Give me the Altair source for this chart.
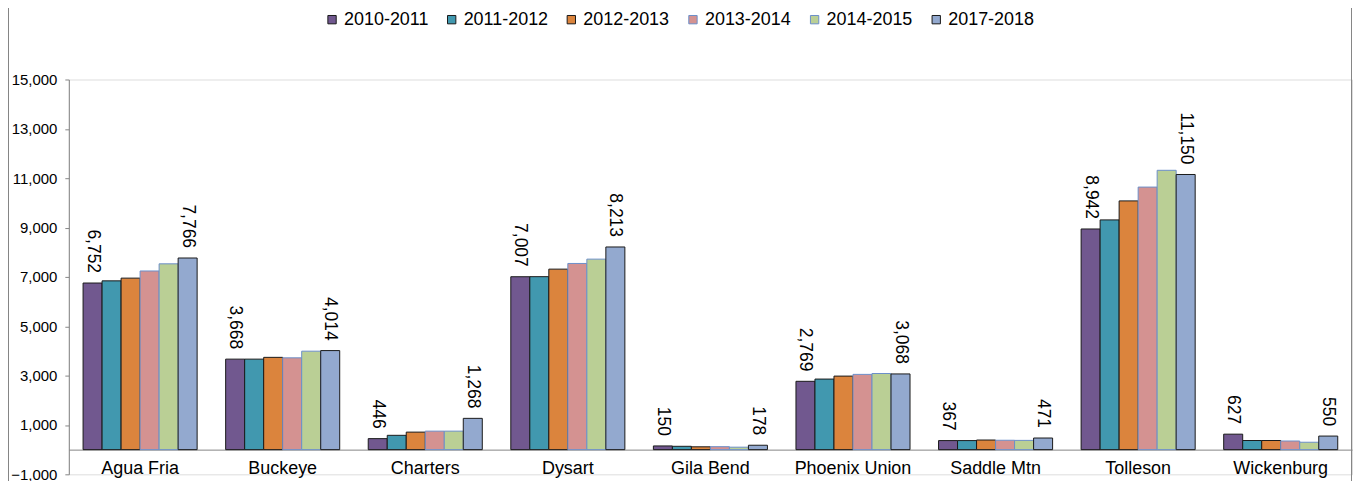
import altair as alt
import pandas as pd

categories = ["Agua Fria", "Buckeye", "Charters", "Dysart", "Gila Bend",
              "Phoenix Union", "Saddle Mtn", "Tolleson", "Wickenburg"]
series = ["2010-2011", "2011-2012", "2012-2013", "2013-2014", "2014-2015", "2017-2018"]

v_2010_2011 = [6752, 3668, 446, 7007, 150, 2769, 367, 8942, 627]
v_2011_2012 = [6840, 3668, 580, 7010, 135, 2860, 367, 9310, 370]
v_2012_2013 = [6950, 3740, 710, 7315, 115, 2980, 390, 10080, 370]
v_2013_2014 = [7240, 3720, 750, 7545, 120, 3050, 380, 10640, 350]
v_2014_2015 = [7530, 3990, 750, 7720, 100, 3085, 375, 11320, 300]
v_2017_2018 = [7766, 4014, 1268, 8213, 178, 3068, 471, 11150, 550]

labelled_series = ["2010-2011", "2017-2018"]
y_ticks = [-1000, 1000, 3000, 5000, 7000, 9000, 11000, 13000, 15000]

fill_colors = ["#71588F", "#4198AF", "#DB843D", "#D49291", "#BACF95", "#93A9CF"]
stroke_colors = ["#1a1a1a", "#1a1a1a", "#1a1a1a", "#6B8FC9", "#6B8FC9", "#1a1a1a"]

all_values = [v_2010_2011, v_2011_2012, v_2012_2013, v_2013_2014, v_2014_2015, v_2017_2018]
rows = []
for s, vals in zip(series, all_values):
    for c, v in zip(categories, vals):
        rows.append({"district": c, "series": s, "value": v})
df = pd.DataFrame(rows)

FONT = "Liberation Sans"

x_enc = alt.X("district:N", sort=categories,
              scale=alt.Scale(paddingInner=0.2, paddingOuter=0.1),
              axis=alt.Axis(title=None, labelAngle=0, ticks=False, offset=-24.75,
                            domainColor="#868686", labelPadding=10, labelFontSize=18,
                            labelColor="#000000", labelFont=FONT))
xoff_enc = alt.XOffset("series:N", sort=series,
                       scale=alt.Scale(domain=series, paddingInner=0, paddingOuter=0))
y_enc = alt.Y("value:Q",
              scale=alt.Scale(domain=[-1000, 15000], nice=False, zero=False),
              axis=alt.Axis(title=None, values=y_ticks, format=",.0f", grid=False,
                            domainColor="#868686", tickColor="#868686", tickSize=4,
                            labelPadding=8, labelFontSize=15, labelColor="#000000",
                            labelFont=FONT))

legend_props = dict(title=None, orient="none", direction="horizontal", columns=6,
                    legendX=255, legendY=-69, symbolType="square", symbolSize=70,
                    symbolStrokeWidth=1, labelFontSize=18, labelFont=FONT,
                    labelColor="#000000", columnPadding=14, labelOffset=3, padding=0)

bars = alt.Chart(df).mark_bar(strokeWidth=1).encode(
    x=x_enc,
    xOffset=xoff_enc,
    y=y_enc,
    fill=alt.Fill("series:N", sort=series,
                  scale=alt.Scale(domain=series, range=fill_colors),
                  legend=alt.Legend(**legend_props)),
    stroke=alt.Stroke("series:N", sort=series,
                      scale=alt.Scale(domain=series, range=stroke_colors),
                      legend=alt.Legend(**legend_props)),
)

labels = alt.Chart(df).transform_filter(
    alt.FieldOneOfPredicate(field="series", oneOf=labelled_series)
).mark_text(angle=90, align="right", baseline="middle", dx=-10,
            fontSize=17.5, font=FONT, color="#000000").encode(
    x=x_enc,
    xOffset=xoff_enc,
    y=y_enc,
    text=alt.Text("value:Q", format=",.0f"),
)

border_left = alt.Chart(df).mark_rule(color="#868686", strokeWidth=1).encode(
    x=alt.value(-60.5), y=alt.value(-71), y2=alt.value(402))
border_right = alt.Chart(df).mark_rule(color="#868686", strokeWidth=1).encode(
    x=alt.value(1286.5), y=alt.value(-71), y2=alt.value(402))

chart = alt.layer(bars, labels, border_left, border_right).properties(
    width=1287, height=396,
    autosize=alt.AutoSizeParams(type="none"),
    padding={"left": 61, "top": 71, "right": 2, "bottom": 6},
).configure_view(stroke=None).configure(background="#ffffff")

chart.save("out.html", embed_options={"renderer": "svg", "actions": False})
